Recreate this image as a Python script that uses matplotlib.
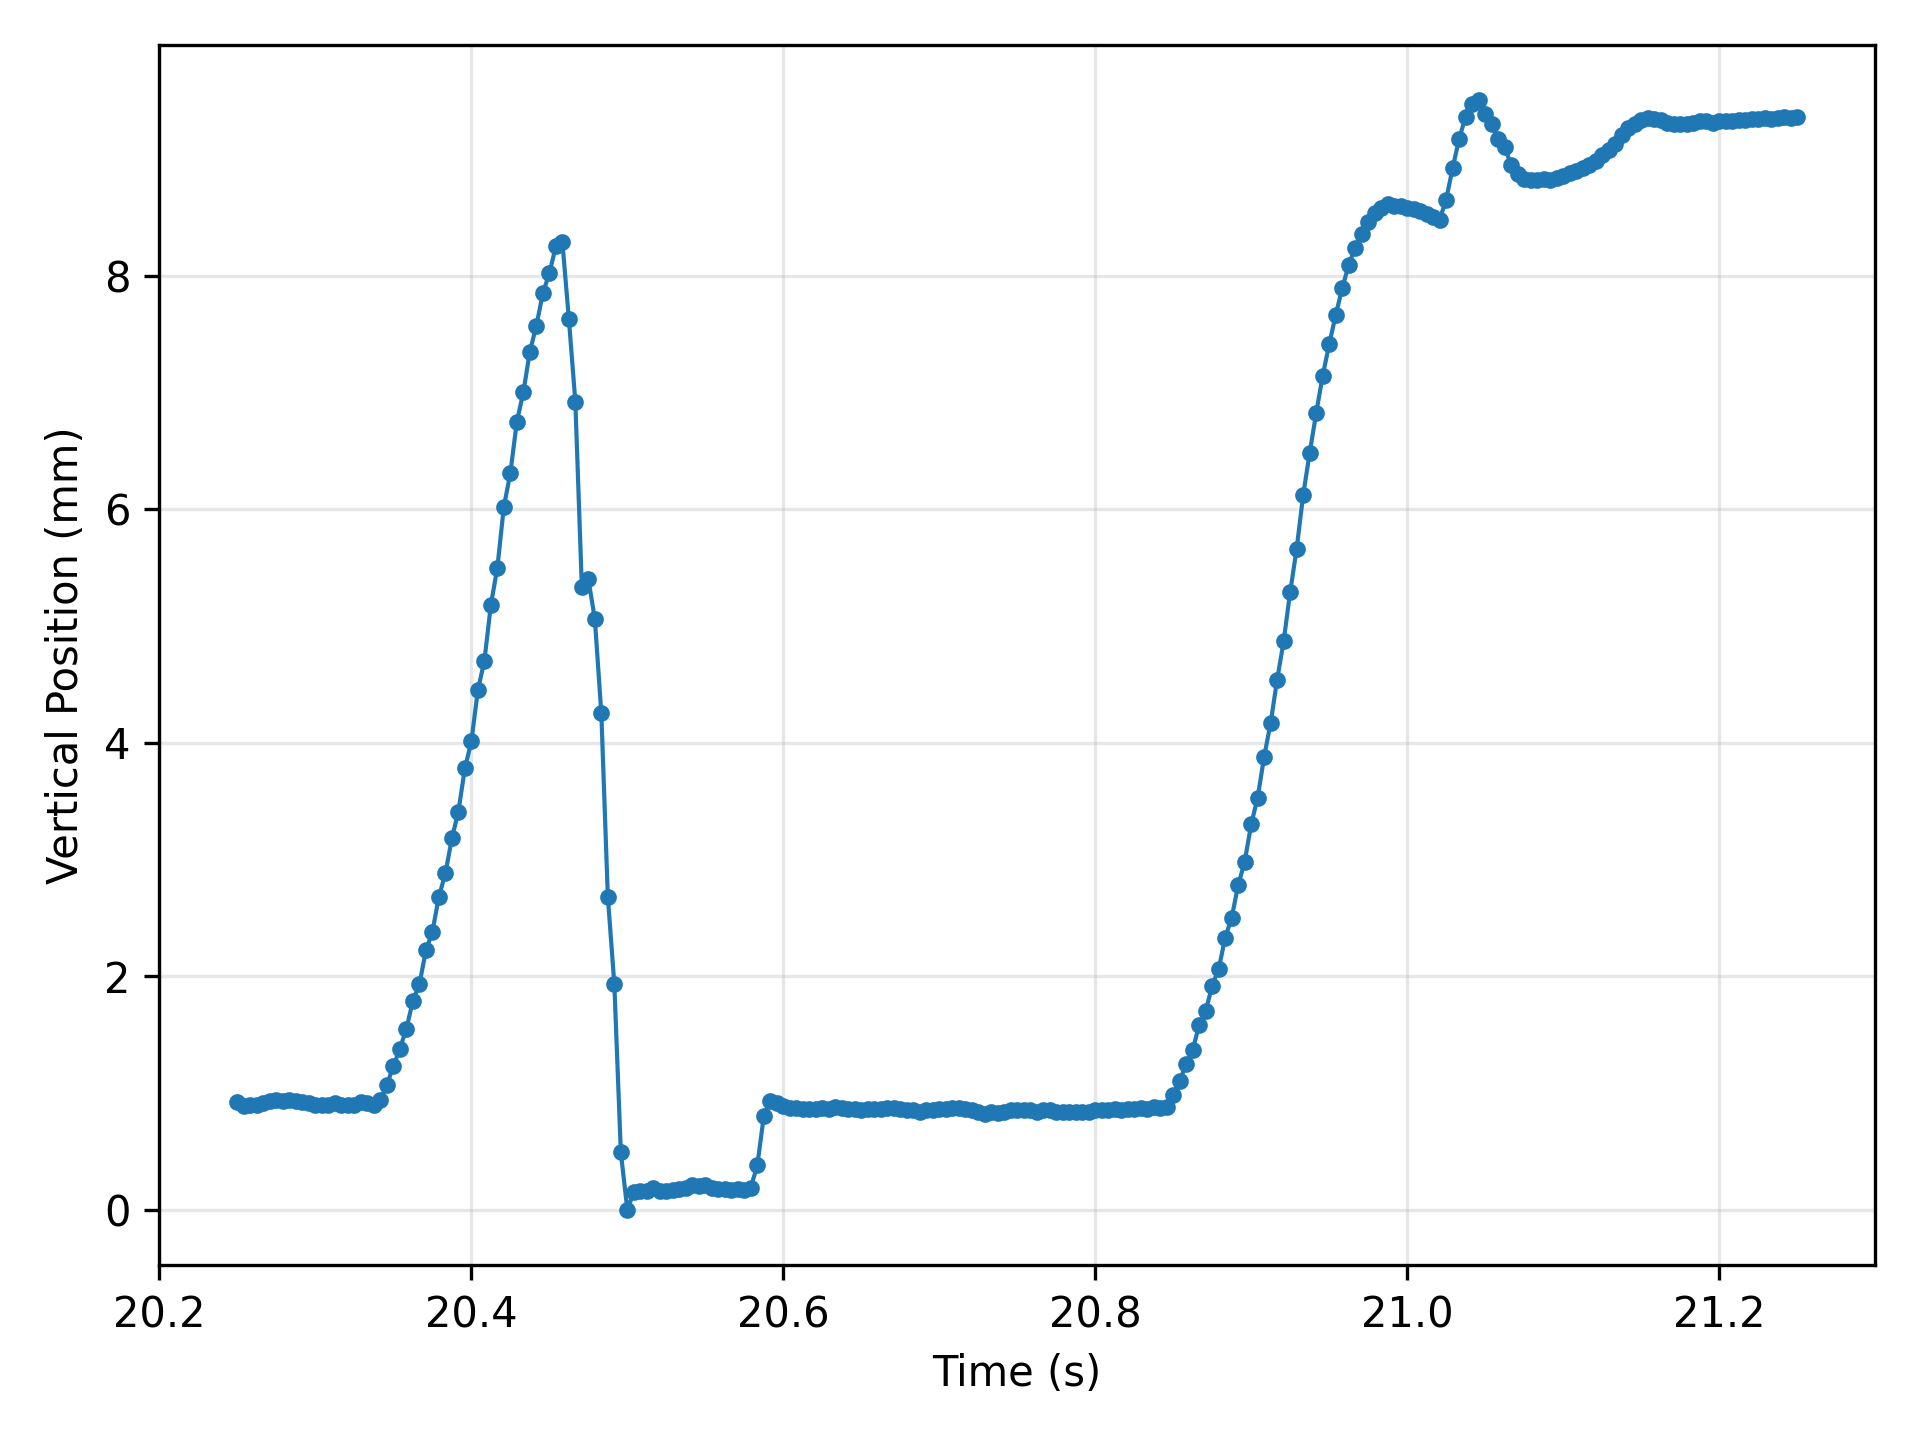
import numpy as np
import matplotlib
matplotlib.use("Agg")
import matplotlib.pyplot as plt

flat1 = [0.92,0.89,0.90,0.90,0.91,0.93,0.94,0.93,0.94,0.93,0.92,0.91,0.90,0.90,0.90,0.91,0.90,0.90,0.90,0.92,0.91,0.90,0.94]
rise1 = [1.07,1.23,1.38,1.55,1.79,1.93,2.22,2.38,2.68,2.88,3.18,3.41,3.78,4.01,4.45,4.70,5.18,5.50,6.02,6.31,6.75,7.00,7.35,7.57,7.85,8.02,8.25,8.29]
fall1 = [7.63,6.92,5.33,5.40,5.06,4.25,2.68,1.93,0.49,0.00]
low = [0.15,0.16,0.16,0.19,0.16,0.16,0.17,0.18,0.19,0.21,0.20,0.21,0.19,0.18,0.18,0.17,0.18,0.17,0.19]
step = [0.38,0.80,0.93]
flat2 = [0.91,0.89,0.87,0.87,0.86,0.86,0.86,0.87,0.86,0.88,0.87,0.86,0.86,0.85,0.86,0.86,0.86,0.87,0.87,0.86,
         0.85,0.85,0.84,0.85,0.85,0.86,0.86,0.87,0.87,0.86,0.85,0.84,0.82,0.84,0.83,0.84,0.85,0.85,0.85,0.85,
         0.84,0.85,0.85,0.84,0.84,0.84,0.84,0.84,0.84,0.85,0.85,0.85,0.86,0.85,0.86,0.86,0.87,0.86,0.88,0.87]
rise2 = [0.88,0.98,1.10,1.25,1.37,1.58,1.70,1.92,2.06,2.33,2.50,2.78,2.98,3.30,3.53,3.88,4.17,4.54,4.87,5.29,
         5.66,6.12,6.48,6.82,7.14,7.41,7.66,7.89,8.09,8.24,8.36,8.46,8.54,8.58,8.61,8.60,8.60,8.58,8.57,8.55,
         8.53,8.50,8.48,8.65,8.92,9.17,9.36,9.47,9.50]
tail = [9.38,9.30,9.17,9.10,8.95,8.87,8.83,8.82,8.82,8.83,8.82,8.84,8.85,8.88,8.90,8.92,8.95,8.98,9.03,9.08,
        9.13,9.20,9.26,9.30,9.33,9.35,9.34,9.33,9.31,9.30,9.30,9.30,9.31,9.32,9.32,9.31,9.32,9.32,9.32,9.33,
        9.33,9.34,9.34,9.35,9.34,9.35,9.36,9.35,9.36]

position = flat1 + rise1 + fall1 + low + step + flat2 + rise2 + tail
t_start, t_end = 20.25, 21.25
time = np.linspace(t_start, t_end, len(position))

fig, ax = plt.subplots(figsize=(6.4, 4.8), dpi=300)
ax.plot(time, position, '-o', color='#1f77b4', lw=1.0, ms=3)
ax.set_xlabel('Time (s)')
ax.set_ylabel('Vertical Position (mm)')
ax.set_xlim(20.2, 21.3)
ax.grid(True, alpha=0.3)
fig.tight_layout()
fig.savefig('out.png', dpi=300)
